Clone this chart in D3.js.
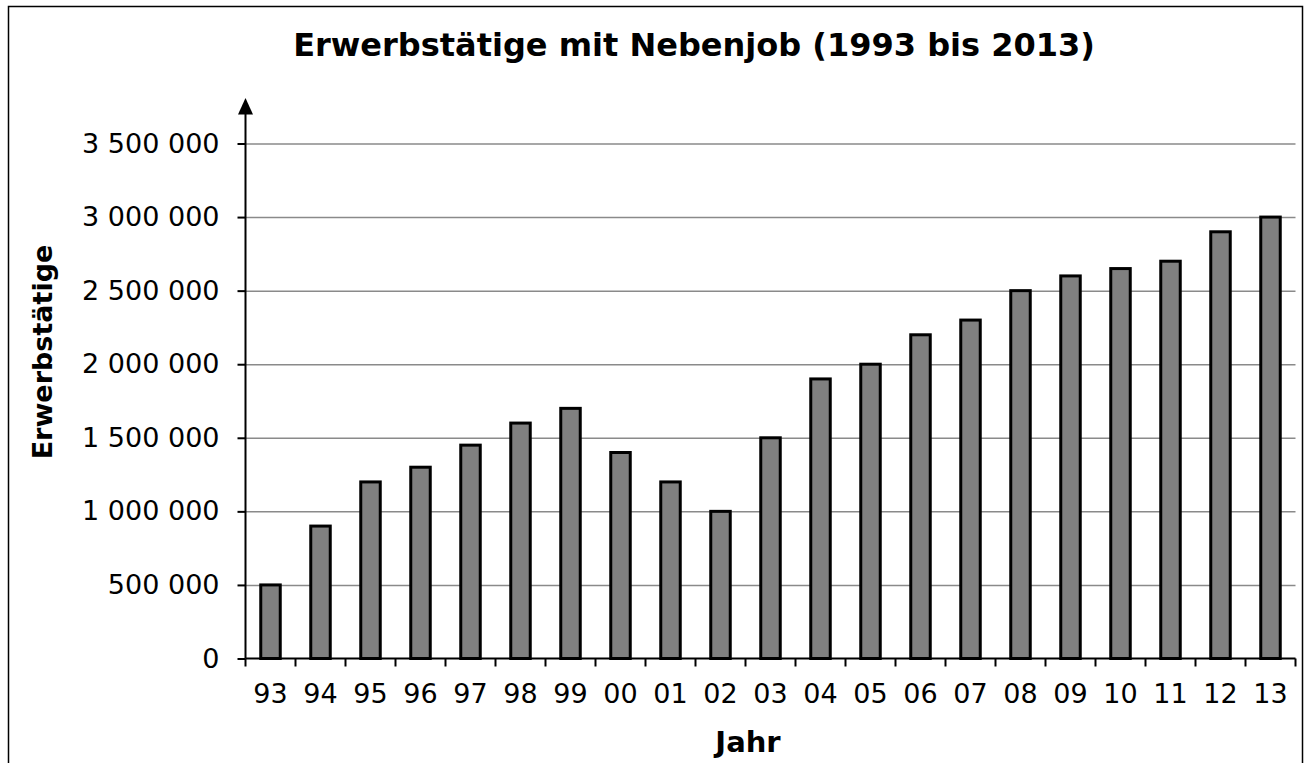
<!DOCTYPE html>
<html>
<head>
<meta charset="utf-8">
<script src="https://cdn.jsdelivr.net/npm/d3@7"></script>
<style>
  body { margin: 0; background: #fff; }
  text { font-family: "DejaVu Sans", Verdana, sans-serif; fill: #000; }
  .title { font-size: 32px; font-weight: bold; text-anchor: middle; }
  .axis-label { font-size: 27px; font-weight: bold; text-anchor: middle; }
  .tick text { font-size: 27px; font-family: "DejaVu Sans", Verdana, sans-serif; }
</style>
</head>
<body>
<div id="chart"></div>
<script>
// DATA
const years = ["93", "94", "95", "96", "97", "98", "99", "00", "01", "02", "03",
               "04", "05", "06", "07", "08", "09", "10", "11", "12", "13"];
const workers = [500000, 900000, 1200000, 1300000, 1450000, 1600000, 1700000, 1400000,
                 1200000, 1000000, 1500000, 1900000, 2000000, 2200000, 2300000, 2500000,
                 2600000, 2650000, 2700000, 2900000, 3000000];
const yTicks = [0, 500000, 1000000, 1500000, 2000000, 2500000, 3000000, 3500000];

const data = years.map((y, i) => ({ year: y, value: workers[i] }));

// 1: SVG
const W = 1308, H = 763;
const margin = { top: 143.5, right: 12.5, bottom: 104.5, left: 245.5 },
      width = W - margin.left - margin.right,   // 1050
      height = H - margin.top - margin.bottom;  // 515

const svg = d3.select("#chart")
    .append("svg")
    .attr("width", W)
    .attr("height", H);

// outer frame of the chart
svg.append("rect")
    .attr("x", 8.5)
    .attr("y", 6.5)
    .attr("width", 1294)
    .attr("height", 770)
    .attr("fill", "none")
    .attr("stroke", "#000")
    .attr("stroke-width", 1.5);

const g = svg.append("g")
    .attr("transform", `translate(${margin.left},${margin.top})`);

// 2: SCALES
const x = d3.scaleBand()
    .domain(years)
    .range([0, width])
    .paddingInner(0.61)
    .paddingOuter(0.305);

const y = d3.scaleLinear()
    .domain([0, 3500000])
    .range([height, 0]);

// numbers with space as thousands separator
const fmt = d3.formatLocale({ decimal: ",", thousands: " ", grouping: [3], currency: ["", " €"] }).format(",");

// 3: GRIDLINES
g.append("g")
    .call(d3.axisLeft(y).tickValues(yTicks.slice(1)).tickSize(-width).tickFormat(""))
    .call(a => a.select(".domain").remove())
    .selectAll("line")
    .attr("stroke", "#8a8a8a")
    .attr("stroke-width", 1.5);

// 4: BARS
g.selectAll("rect.bar")
    .data(data)
    .enter()
    .append("rect")
    .attr("class", "bar")
    .attr("x", d => x(d.year))
    .attr("y", d => y(d.value))
    .attr("width", x.bandwidth())
    .attr("height", d => height - y(d.value))
    .attr("fill", "#808080")
    .attr("stroke", "#000")
    .attr("stroke-width", 3);

// 5: AXES
// y-axis
const yAxis = g.append("g")
    .call(d3.axisLeft(y).tickValues(yTicks).tickSize(8).tickPadding(18).tickFormat(fmt));
yAxis.select(".domain").remove();
yAxis.selectAll("line").attr("stroke", "#000").attr("stroke-width", 2);

// vertical axis line with arrow on top
g.append("line")
    .attr("x1", 0).attr("x2", 0)
    .attr("y1", height).attr("y2", -30)
    .attr("stroke", "#000")
    .attr("stroke-width", 2);
g.append("path")
    .attr("d", "M0,-45.5 L-7.5,-29 L7.5,-29 Z")
    .attr("fill", "#000");

// x-axis: ticks on category boundaries
const xAxis = g.append("g")
    .attr("transform", `translate(0,${height})`);

xAxis.append("line")
    .attr("x1", 0).attr("x2", width)
    .attr("stroke", "#000")
    .attr("stroke-width", 2);

xAxis.selectAll("line.sep")
    .data(d3.range(years.length + 1))
    .enter()
    .append("line")
    .attr("class", "sep")
    .attr("x1", i => i * x.step()).attr("x2", i => i * x.step())
    .attr("y1", 0).attr("y2", 8)
    .attr("stroke", "#000")
    .attr("stroke-width", 2);

xAxis.selectAll("text.xlab")
    .data(years)
    .enter()
    .append("text")
    .attr("class", "xlab")
    .attr("x", d => x(d) + x.bandwidth() / 2)
    .attr("y", 44.5)
    .attr("text-anchor", "middle")
    .style("font-size", "27px")
    .text(d => d);

// 6: LABELS
svg.append("text")
    .attr("class", "title")
    .attr("x", 694)
    .attr("y", 56)
    .text("Erwerbstätige mit Nebenjob (1993 bis 2013)");

svg.append("text")
    .attr("class", "axis-label")
    .attr("x", 748)
    .attr("y", 752)
    .style("font-size", "29px")
    .text("Jahr");

svg.append("text")
    .attr("class", "axis-label")
    .attr("transform", "rotate(-90)")
    .attr("x", -352)
    .attr("y", 52)
    .text("Erwerbstätige");
</script>
</body>
</html>
